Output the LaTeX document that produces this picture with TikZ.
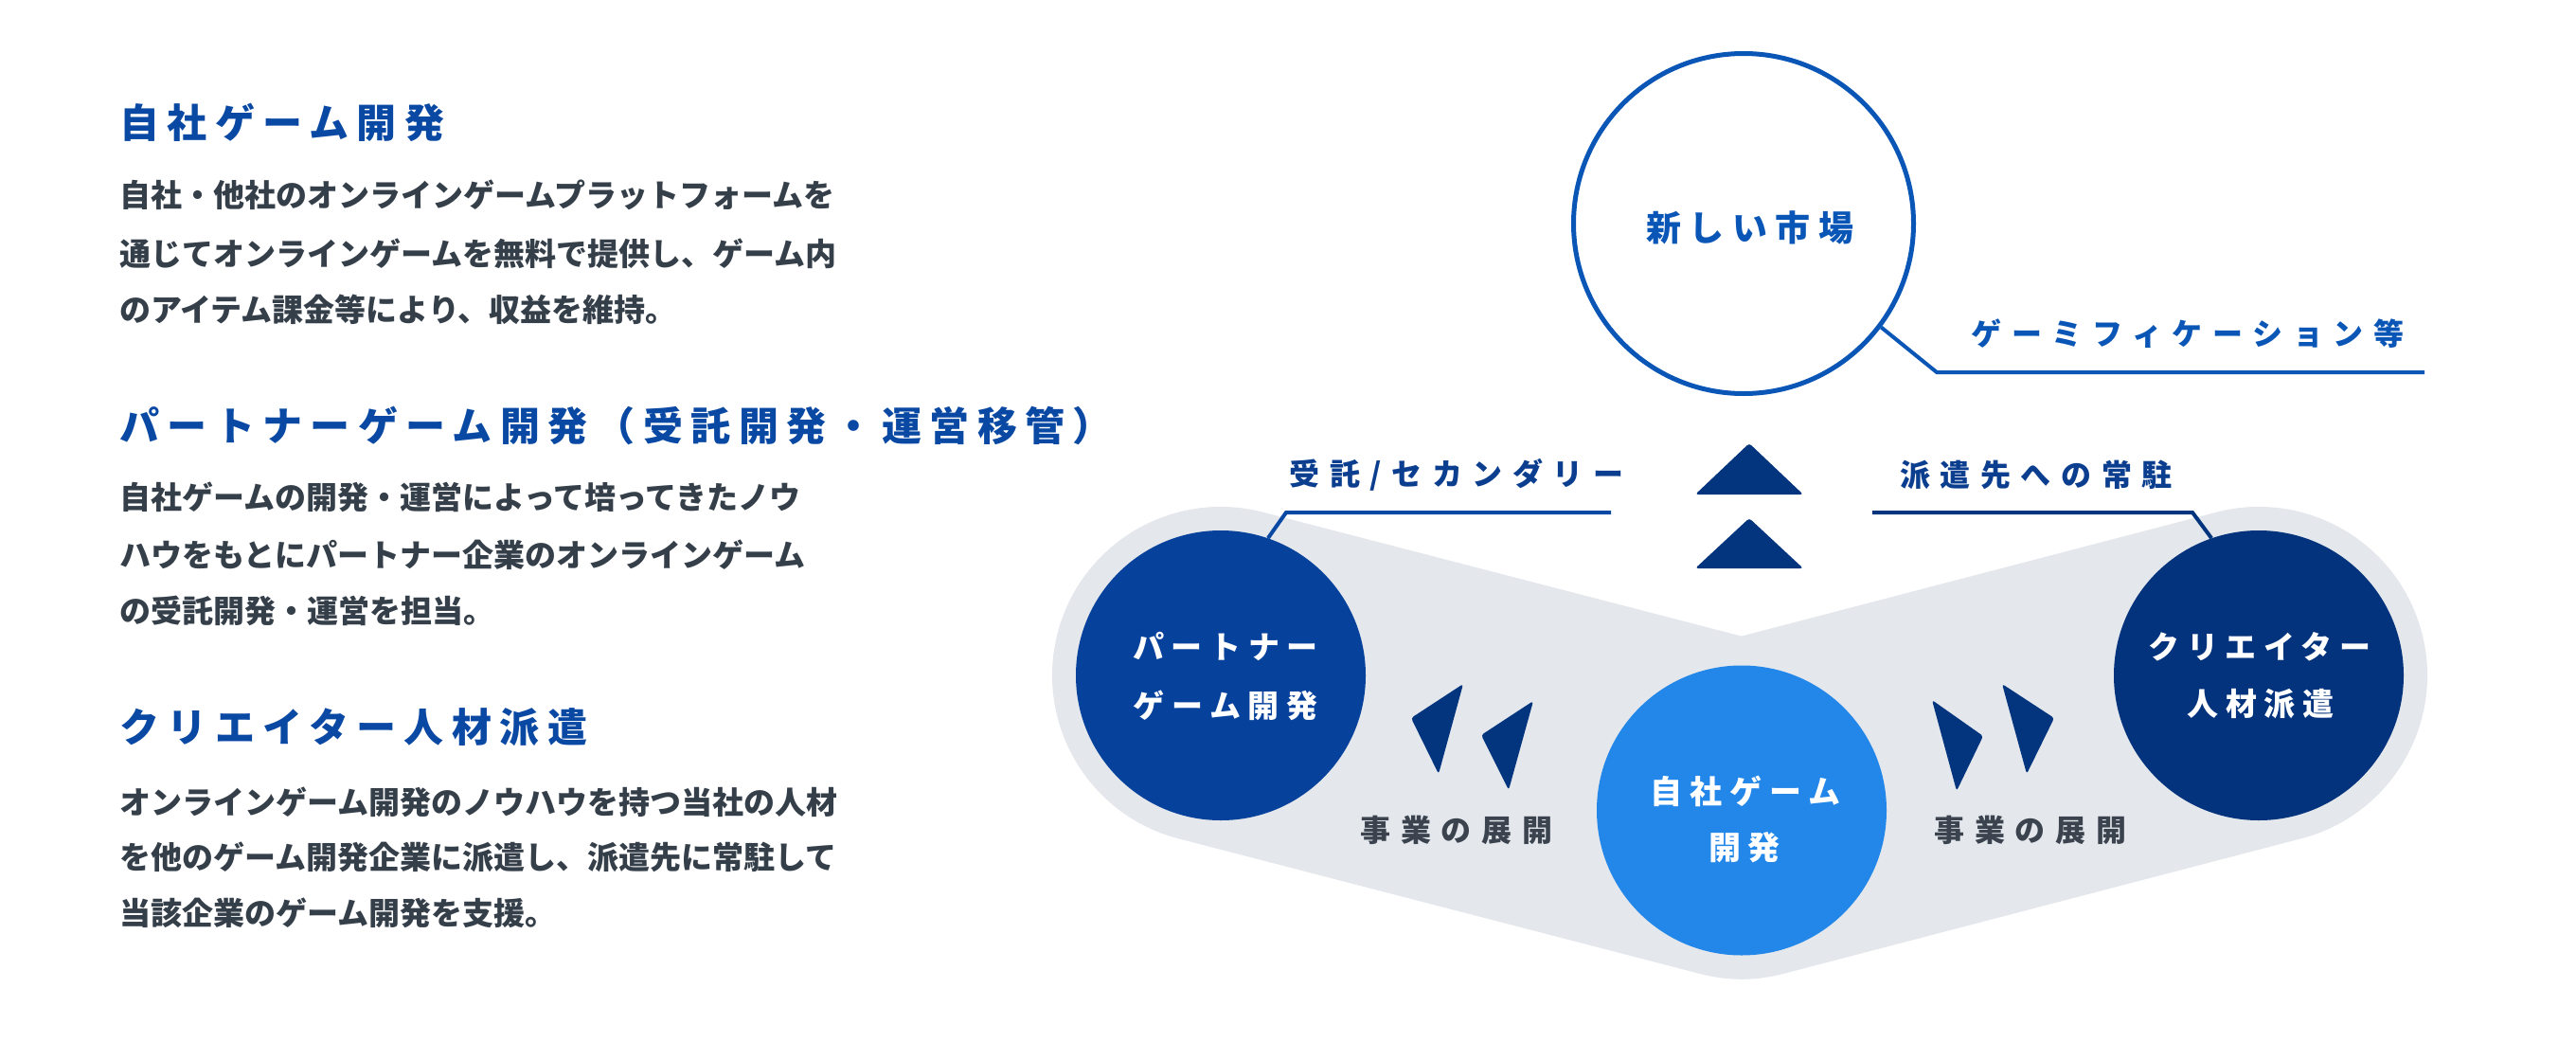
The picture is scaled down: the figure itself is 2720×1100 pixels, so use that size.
\documentclass[tikz,border=0pt]{standalone}
\usepackage{fontspec}
\setmainfont{Noto Sans CJK JP}
\newfontfamily\jphead[LetterSpace=20]{Noto Sans CJK JP}
\newfontfamily\jpbody{Noto Sans CJK JP}
\newfontfamily\jplab[LetterSpace=33]{Noto Sans CJK JP}
\newfontfamily\jpcirc[LetterSpace=23]{Noto Sans CJK JP}
\definecolor{hblue}{HTML}{0A49A3}
\definecolor{bodyc}{HTML}{353F4A}
\definecolor{lcirc}{HTML}{06429C}
\definecolor{rcirc}{HTML}{03337C}
\definecolor{ccirc}{HTML}{2387EA}
\definecolor{tcirc}{HTML}{0A56B6}
\definecolor{bggray}{HTML}{E4E7EC}
\definecolor{navy}{HTML}{03357E}
\definecolor{labnavy}{HTML}{0B3E8F}
\definecolor{expc}{HTML}{3A434E}
\tikzset{
  heading/.style={anchor=west, inner sep=0, text=hblue, font=\jphead\bfseries\fontsize{42}{50}\selectfont},
  bodyline/.style={anchor=west, inner sep=0, text=bodyc, font=\jpbody\bfseries\fontsize{33}{40}\selectfont},
  bigcirc/.style={circle, inner sep=0, minimum size=306},
  circtext/.style={inner sep=0, text=white, font=\jpcirc\bfseries\fontsize{33}{40}\selectfont},
  labtext/.style={inner sep=0, font=\jplab\bfseries\fontsize{32}{40}\selectfont},
  leader/.style={line width=4},
  arrowshape/.style={fill=navy, rounded corners=3},
}
\begin{document}
\begin{tikzpicture}[x=1pt,y=-1pt]
\useasboundingbox (0,0) rectangle (2720,1100);

% ---------------- left text ----------------
\node[heading] (h1) at (126,129) {自社ゲーム開発};
\node[bodyline] (b11) at (126,206) {自社・他社のオンラインゲームプラットフォームを};
\node[bodyline] (b12) at (126,268) {通じてオンラインゲームを無料で提供し、ゲーム内};
\node[bodyline] (b13) at (126,327) {のアイテム課金等により、収益を維持。};

\node[heading] (h2) at (126,449) {パートナーゲーム開発（受託開発・運営移管）};
\node[bodyline] (b21) at (126,525) {自社ゲームの開発・運営によって培ってきたノウ};
\node[bodyline] (b22) at (126,586) {ハウをもとにパートナー企業のオンラインゲーム};
\node[bodyline] (b23) at (126,645) {の受託開発・運営を担当。};

\node[heading] (h3) at (126,768) {クリエイター人材派遣};
\node[bodyline] (b31) at (126,847) {オンラインゲーム開発のノウハウを持つ当社の人材};
\node[bodyline] (b32) at (126,905) {を他のゲーム開発企業に派遣し、派遣先に常駐して};
\node[bodyline] (b33) at (126,964) {当該企業のゲーム開発を支援。};

% ---------------- diagram ----------------
\coordinate (Lc) at (1289,713);
\coordinate (Cc) at (1839,855.5);
\coordinate (Rc) at (2385,713);
\draw[bggray, line width=356, line cap=round, line join=round] (Lc) -- (Cc) -- (Rc);

\node[bigcirc, fill=lcirc] (L) at (Lc) {};
\node[bigcirc, fill=rcirc] (R) at (Rc) {};
\node[bigcirc, fill=ccirc] (C) at (Cc) {};
\node[circle, inner sep=0, minimum size=359, draw=tcirc, line width=5, fill=white] (T) at (1841,236) {};

% circle texts
\node[circtext, text=tcirc, font=\jpcirc\bfseries\fontsize{37}{44}\selectfont] (tt) at (1848,240) {新しい市場};
\node[circtext] (l1) at (1294,682) {パートナー};
\node[circtext] (l2) at (1294,745) {ゲーム開発};
\node[circtext] (r1) at (2386,683) {クリエイター};
\node[circtext] (r2) at (2387,743) {人材派遣};
\node[circtext, font=\jpcirc\bfseries\fontsize{34}{40}\selectfont] (c1) at (1843,835) {自社ゲーム};
\node[circtext, font=\jpcirc\bfseries\fontsize{34}{40}\selectfont] (c2) at (1842,895) {開発};

% leaders and labels
\coordinate (tk) at (2045,393);
\coordinate (tend) at (2560,393);
\draw[leader, tcirc] (T.-37) -- (tk) -- (tend);
\node[labtext, text=tcirc] (tlab) at (2310,352) {ゲーミフィケーション等};

\coordinate (lk) at (1358,541);
\coordinate (lend) at (1701,541);
\draw[leader, hblue] (L.71) -- (lk) -- (lend);
\node[labtext, text=labnavy] (llab) at (1538,501) {受託/セカンダリー};

\coordinate (rk) at (2315,541);
\coordinate (rend) at (1977,541);
\draw[leader, navy] (R.109) -- (rk) -- (rend);
\node[labtext, text=labnavy] (rlab) at (2150,501) {派遣先への常駐};

% up triangles
\fill[arrowshape] (1847,468) -- (1904,522) -- (1790,522) -- cycle;
\fill[arrowshape] (1847,547) -- (1904,600) -- (1790,600) -- cycle;

% wedges
\fill[arrowshape] (1545,722) -- (1490,758) -- (1519,817) -- cycle;
\fill[arrowshape] (1619,740) -- (1564,776) -- (1593,834) -- cycle;
\fill[arrowshape] (2040,739) -- (2094,777) -- (2066,835) -- cycle;
\fill[arrowshape] (2114,722) -- (2169,758) -- (2140,817) -- cycle;

% expansion labels
\node[labtext, text=expc] (e1) at (1538,876) {事業の展開};
\node[labtext, text=expc] (e2) at (2144,876) {事業の展開};
\end{tikzpicture}
\end{document}
